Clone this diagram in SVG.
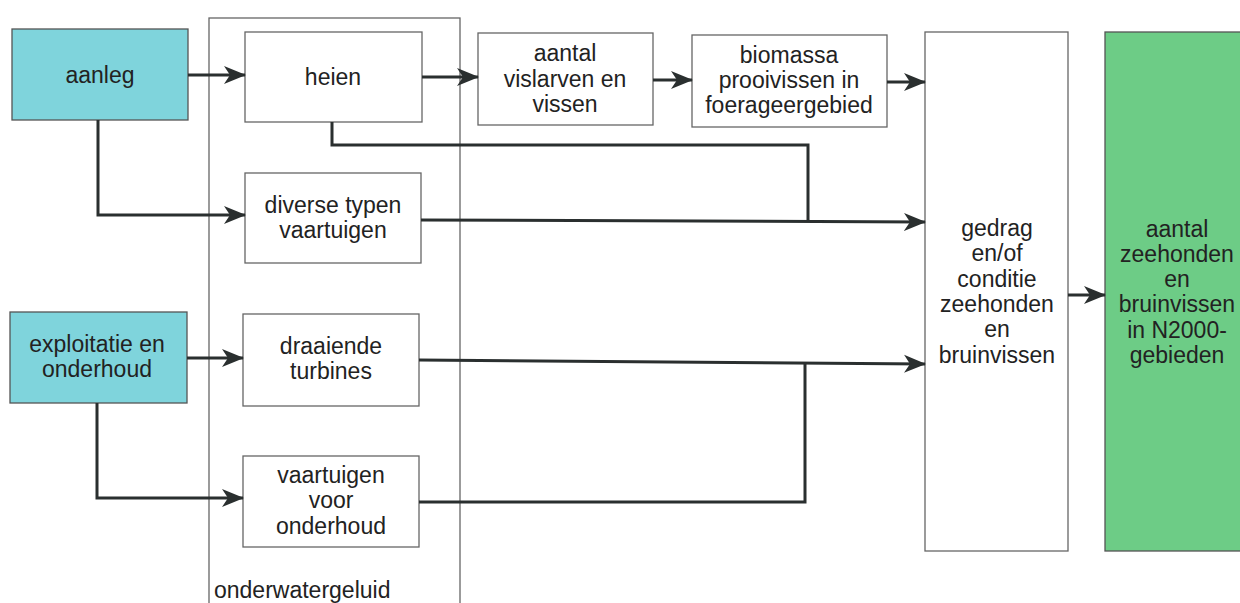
<svg xmlns="http://www.w3.org/2000/svg" width="1240" height="603" viewBox="0 0 1240 603">
<defs>
<marker id="ah" markerWidth="22" markerHeight="20" refX="21" refY="10" orient="auto" markerUnits="userSpaceOnUse" viewBox="0 0 22 20">
<path d="M0,1 L22,10 L0,19 L6,10 Z" fill="#2a2f2f"/>
</marker>
</defs>
<style>
.box{fill:#fff;stroke:#666;stroke-width:1.3}
.cyan{fill:#7fd4dc;stroke:#555;stroke-width:1.3}
.green{fill:#6dcc86;stroke:#555;stroke-width:1.3}
.frame{fill:none;stroke:#666;stroke-width:1.3}
text{font-family:"Liberation Sans",Arial,sans-serif;font-size:23px;fill:#222;text-anchor:middle}
.conn path{fill:none;stroke:#2a2f2f;stroke-width:3}
</style>
<rect width="1240" height="603" fill="#fff"/>
<g id="onderwatergeluid">
<rect class="frame" x="209" y="18" width="251" height="600"/>
<text x="214" y="598" style="text-anchor:start">onderwatergeluid</text>
</g>
<g id="aanleg">
<rect class="cyan" x="12" y="29" width="176" height="91"/>
<text x="100" y="83">aanleg</text>
</g>
<g id="exploitatie">
<rect class="cyan" x="10" y="312" width="177" height="91"/>
<text x="97" y="352">exploitatie en</text>
<text x="97" y="377">onderhoud</text>
</g>
<g id="heien">
<rect class="box" x="245" y="32" width="177" height="90"/>
<text x="333" y="85">heien</text>
</g>
<g id="diverse">
<rect class="box" x="245" y="173" width="176" height="90"/>
<text x="333" y="213">diverse typen</text>
<text x="333" y="238">vaartuigen</text>
</g>
<g id="draaiende">
<rect class="box" x="243" y="314" width="176" height="92"/>
<text x="331" y="354">draaiende</text>
<text x="331" y="379">turbines</text>
</g>
<g id="vaartuigen">
<rect class="box" x="243" y="456" width="176" height="91"/>
<text x="331" y="483">vaartuigen</text>
<text x="331" y="508">voor</text>
<text x="331" y="534">onderhoud</text>
</g>
<g id="vislarven">
<rect class="box" x="478" y="33" width="175" height="92"/>
<text x="565" y="61">aantal</text>
<text x="565" y="87">vislarven en</text>
<text x="565" y="112">vissen</text>
</g>
<g id="biomassa">
<rect class="box" x="692" y="35" width="195" height="92"/>
<text x="789" y="63">biomassa</text>
<text x="789" y="88">prooivissen in</text>
<text x="789" y="113">foerageergebied</text>
</g>
<g id="gedrag">
<rect class="box" x="925" y="32" width="143" height="519"/>
<text x="997" y="236">gedrag</text>
<text x="997" y="261">en/of</text>
<text x="997" y="287">conditie</text>
<text x="997" y="312">zeehonden</text>
<text x="997" y="337">en</text>
<text x="997" y="363">bruinvissen</text>
</g>
<g id="aantal-zeehonden">
<rect class="green" x="1105" y="32" width="140" height="519"/>
<text x="1177" y="237">aantal</text>
<text x="1177" y="262">zeehonden</text>
<text x="1177" y="287">en</text>
<text x="1177" y="312">bruinvissen</text>
<text x="1177" y="338">in N2000-</text>
<text x="1177" y="363">gebieden</text>
</g>
<g class="conn" id="connectors">
<path d="M188,75 H245" marker-end="url(#ah)"/>
<path d="M422,77 H478" marker-end="url(#ah)"/>
<path d="M653,80 H692" marker-end="url(#ah)"/>
<path d="M887,82 H925" marker-end="url(#ah)"/>
<path d="M332,122 V145 H808 V221"/>
<path d="M421,220 L925,222" marker-end="url(#ah)"/>
<path d="M98,120 V215 H245" marker-end="url(#ah)"/>
<path d="M187,358 H243" marker-end="url(#ah)"/>
<path d="M97,403 V498 H243" marker-end="url(#ah)"/>
<path d="M419,360 L925,364" marker-end="url(#ah)"/>
<path d="M419,502 H805 V362"/>
<path d="M1068,295 H1105" marker-end="url(#ah)"/>
</g>
</svg>
